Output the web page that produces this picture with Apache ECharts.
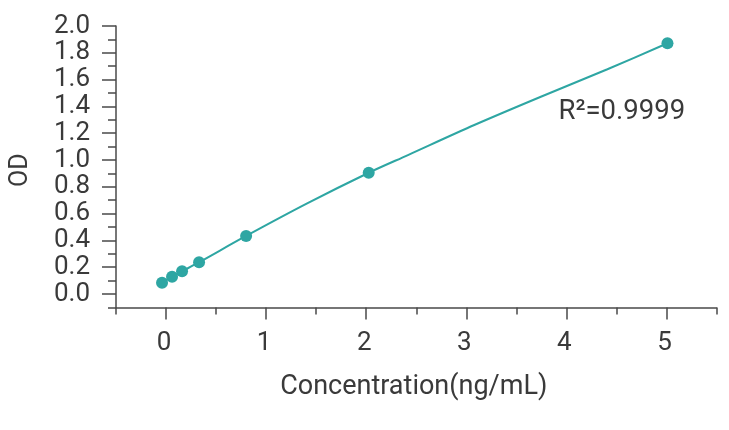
<!DOCTYPE html>
<html lang="en">

<head>
    <meta charset="UTF-8">
    <title>OD standard curve</title>
    <script src="https://cdn.jsdelivr.net/npm/echarts@6/dist/echarts.min.js"></script>
    <style>
        html,
        body {
            width: 100%;
            height: 100%;
            margin: 0px;
            padding: 0px;
            background: #fff;
        }

        #chart {
            width: 729px;
            height: 430px;
        }
    </style>
</head>

<body>
    <div id="chart"></div>
    <script>
        // measured standards (concentration, OD)
        var standardConc = [-0.04, 0.06, 0.16, 0.33, 0.80, 2.025, 5.01];
        var standardOD = [0.084, 0.129, 0.169, 0.237, 0.433, 0.905, 1.871];

        // fitted curve
        var curveConc = [-0.04, 0.06, 0.16, 0.33, 0.80, 1.41, 2.025, 2.417, 3.08, 3.745, 4.41, 5.01];
        var curveOD = [0.084, 0.129, 0.169, 0.237, 0.433, 0.676, 0.905, 1.037, 1.261, 1.472, 1.677, 1.871];

        // ticks and labels
        var xLabelValues = [0, 1, 2, 3, 4, 5];
        var xMinorTicks = [-0.5, 0.5, 1.5, 2.5, 3.5, 4.5, 5.5];
        var yLabelValues = [0, 0.2, 0.4, 0.6, 0.8, 1.0, 1.2, 1.4, 1.6, 1.8, 2.0];
        var yMinorTicks = [-0.1, 0.1, 0.3, 0.5, 0.7, 0.9, 1.1, 1.3, 1.5, 1.7, 1.9];

        var fitText = 'R²=0.9999';
        var xName = 'Concentration(ng/mL)';
        var yName = 'OD';

        var teal = '#2ea6a3';
        var ink = '#3a3a3a';
        var axisColor = '#4a4a4a';
        var font = 'Roboto';

        function zip(a, b) {
            return a.map(function (v, i) { return [v, b[i]]; });
        }

        var chart = echarts.init(document.getElementById('chart'));

        var option = {
            animation: false,
            grid: { left: 113.5, right: 12.5, top: 26, bottom: 122.6 },
            xAxis: [
                {
                    type: 'value', position: 'bottom',
                    min: -0.5, max: 5.5, interval: 0.5,
                    name: xName, nameLocation: 'middle', nameGap: 66,
                    nameTextStyle: { fontFamily: font, fontSize: 27, color: ink, padding: [0, 5, 0, 0] },
                    axisLine: { show: true, onZero: false, lineStyle: { color: axisColor, width: 1.5 } },
                    axisTick: { show: true, customValues: xMinorTicks, length: 7, lineStyle: { color: axisColor, width: 1.5 } },
                    axisLabel: {
                        customValues: xLabelValues, margin: 23,
                        fontFamily: font, fontSize: 26, color: ink,
                        padding: [0, 4, 0, 0],
                        formatter: function (v) { return String(v); }
                    },
                    splitLine: { show: false }
                },
                {
                    type: 'value', position: 'bottom',
                    min: -0.5, max: 5.5, interval: 0.5,
                    axisLine: { show: false, onZero: false },
                    axisTick: { show: true, customValues: xLabelValues, length: 12, lineStyle: { color: axisColor, width: 1.5 } },
                    axisLabel: { show: false },
                    splitLine: { show: false }
                }
            ],
            yAxis: [
                {
                    type: 'value', position: 'left',
                    min: -0.1, max: 2.0, interval: 0.1,
                    name: yName, nameLocation: 'middle', nameGap: 83,
                    nameTextStyle: { fontFamily: font, fontSize: 25, color: ink, padding: [0, 7, 0, 0] },
                    axisLine: { show: true, onZero: false, lineStyle: { color: axisColor, width: 1.5 } },
                    axisTick: { show: true, customValues: yMinorTicks, length: 8, lineStyle: { color: axisColor, width: 1.5 } },
                    axisLabel: {
                        customValues: yLabelValues, margin: 26,
                        fontFamily: font, fontSize: 26, color: ink,
                        formatter: function (v) { return v.toFixed(1); }
                    },
                    splitLine: { show: false }
                },
                {
                    type: 'value', position: 'left',
                    min: -0.1, max: 2.0, interval: 0.1,
                    axisLine: { show: false, onZero: false },
                    axisTick: { show: true, customValues: yLabelValues, length: 14, lineStyle: { color: axisColor, width: 1.5 } },
                    axisLabel: { show: false },
                    splitLine: { show: false }
                }
            ],
            series: [
                {
                    type: 'line',
                    xAxisIndex: 0, yAxisIndex: 0,
                    data: zip(curveConc, curveOD),
                    smooth: 0.3,
                    symbol: 'none',
                    lineStyle: { color: teal, width: 2 },
                    z: 2
                },
                {
                    type: 'scatter',
                    xAxisIndex: 0, yAxisIndex: 0,
                    data: zip(standardConc, standardOD),
                    symbolSize: 12,
                    itemStyle: { color: teal, opacity: 1 },
                    z: 3
                }
            ],
            graphic: [
                {
                    type: 'text',
                    left: 558.5, top: 98.5,
                    style: { text: fitText, fontFamily: font, fontSize: 27.5, fill: ink }
                }
            ]
        };

        chart.setOption(option);
    </script>
</body>

</html>
